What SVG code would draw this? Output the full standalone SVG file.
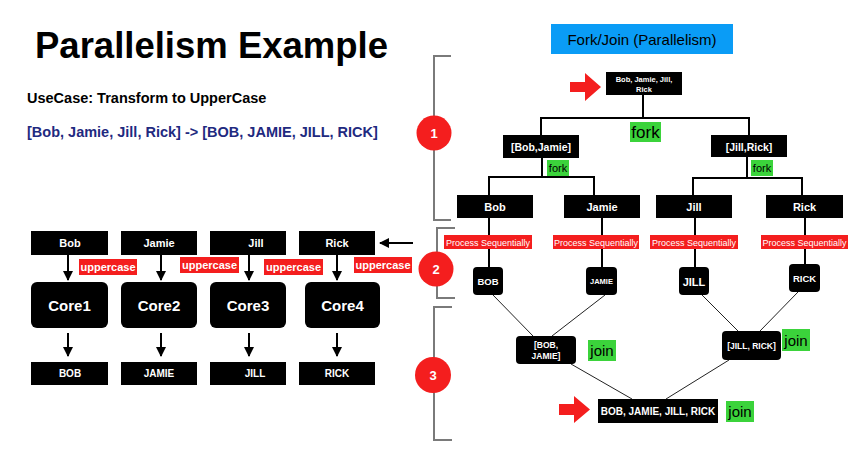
<svg xmlns="http://www.w3.org/2000/svg" width="858" height="452" viewBox="0 0 858 452">
<defs>
<style>
text{font-family:"Liberation Sans",Arial,sans-serif}
.box{fill:#000}
.wt{fill:#fff;text-anchor:middle;font-weight:bold}
.wn{fill:#fff;text-anchor:middle}
.red{fill:#f41e1e}
.grn{fill:#3bd33b}
.ln{stroke:#000;stroke-width:2;fill:none}
.thin{stroke:#222;stroke-width:1;fill:none}
.br{stroke:#7a7a7a;stroke-width:2;fill:none}
.num{fill:#fff;font-weight:bold;font-size:13px;text-anchor:middle}
</style>
<marker id="ah" viewBox="0 0 10 10" refX="9" refY="5" markerWidth="5" markerHeight="5" orient="auto" markerUnits="strokeWidth">
<path d="M0,0 L10,5 L0,10 z" fill="#000"/>
</marker>
</defs>
<rect width="858" height="452" fill="#fff"/>

<g id="title">
<text x="35" y="58" font-size="36.5" font-weight="bold">Parallelism Example</text>
<text x="27" y="103" font-size="14.5" font-weight="bold">UseCase: Transform to UpperCase</text>
<text x="27" y="137" font-size="14.5" font-weight="bold" fill="#1f2a80">[Bob, Jamie, Jill, Rick] -&gt; [BOB, JAMIE, JILL, RICK]</text>
</g>

<g id="header">
<rect x="551" y="24" width="182" height="30" fill="#0a9cf6"/>
<text x="642" y="45" font-size="15" text-anchor="middle">Fork/Join (Parallelism)</text>
</g>

<g id="brackets">
<path class="br" d="M451,56 H434 V220 H451"/>
<path class="br" d="M455,228 H437 V298 H455"/>
<path class="br" d="M452,307 H434 V440 H452"/>
<circle cx="434" cy="133" r="17.5" class="red"/><text class="num" x="434" y="138">1</text>
<circle cx="436" cy="269" r="17.5" class="red"/><text class="num" x="436" y="274">2</text>
<circle cx="433" cy="375" r="18" class="red"/><text class="num" x="433" y="380">3</text>
</g>

<g id="connectors">
<line class="ln" x1="413" y1="243" x2="380" y2="243" marker-end="url(#ah)"/>
<line class="ln" x1="68" y1="255" x2="68" y2="280" marker-end="url(#ah)"/>
<line class="ln" x1="161" y1="255" x2="161" y2="280" marker-end="url(#ah)"/>
<line class="ln" x1="249" y1="255" x2="249" y2="280" marker-end="url(#ah)"/>
<line class="ln" x1="337" y1="255" x2="337" y2="280" marker-end="url(#ah)"/>
<line class="ln" x1="68" y1="333" x2="68" y2="356" marker-end="url(#ah)"/>
<line class="ln" x1="161" y1="333" x2="161" y2="356" marker-end="url(#ah)"/>
<line class="ln" x1="249" y1="333" x2="249" y2="356" marker-end="url(#ah)"/>
<line class="ln" x1="337" y1="333" x2="337" y2="356" marker-end="url(#ah)"/>
<path class="ln" d="M643,95 V118 M541,135 V118 H749 V135"/>
<path class="ln" d="M542,158 V177 M489,195 V177 H594 V195"/>
<path class="ln" d="M747,157 V178 M693,195 V178 H802 V195"/>
<path class="ln" d="M489,218 V267 M602,218 V267 M695,218 V267 M805,218 V264"/>
<path class="thin" d="M493,295 L533,336 M605,295 L552,336 M702,295 L738,331 M798,292 L760,331"/>
<path class="thin" d="M571,364 L632,399 M729,360 L666,399"/>
</g>

<g id="left-inputs">
<rect class="box" x="31" y="231" width="77" height="24"/><text class="wt" x="70" y="247" font-size="11">Bob</text>
<rect class="box" x="121" y="231" width="76" height="24"/><text class="wt" x="159" y="247" font-size="11">Jamie</text>
<rect class="box" x="210" y="231" width="76" height="24"/><text class="wt" x="256" y="247" font-size="11">Jill</text>
<rect class="box" x="299" y="231" width="76" height="24"/><text class="wt" x="337" y="247" font-size="11">Rick</text>
</g>

<g id="uppercase-labels">
<rect class="red" x="79" y="259" width="58" height="16"/><text class="wt" x="108" y="271" font-size="11">uppercase</text>
<rect class="red" x="180" y="257" width="59" height="16"/><text class="wt" x="209.5" y="269" font-size="11">uppercase</text>
<rect class="red" x="264" y="259" width="59" height="16"/><text class="wt" x="293.5" y="271" font-size="11">uppercase</text>
<rect class="red" x="354" y="257" width="58" height="16"/><text class="wt" x="383" y="269" font-size="11">uppercase</text>
</g>

<g id="cores">
<rect class="box" x="31" y="282" width="77" height="46" rx="6"/><text class="wt" x="69.5" y="311" font-size="15">Core1</text>
<rect class="box" x="121" y="282" width="76" height="46" rx="6"/><text class="wt" x="159" y="311" font-size="15">Core2</text>
<rect class="box" x="210" y="282" width="76" height="46" rx="6"/><text class="wt" x="248" y="311" font-size="15">Core3</text>
<rect class="box" x="305" y="282" width="75" height="46" rx="6"/><text class="wt" x="342.5" y="311" font-size="15">Core4</text>
</g>

<g id="left-outputs">
<rect class="box" x="31" y="362" width="77" height="23"/><text class="wt" x="70" y="377" font-size="10">BOB</text>
<rect class="box" x="121" y="362" width="76" height="23"/><text class="wt" x="159" y="377" font-size="10">JAMIE</text>
<rect class="box" x="210" y="362" width="76" height="23"/><text class="wt" x="255" y="377" font-size="10">JILL</text>
<rect class="box" x="299" y="362" width="76" height="23"/><text class="wt" x="337" y="377" font-size="10">RICK</text>
</g>

<g id="top-node">
<path class="red" d="M570,82 H585 V73 L601,87 L585,101 V92 H570 z"/>
<rect class="box" x="606" y="72" width="76" height="23"/>
<text class="wt" x="644" y="82" font-size="7.5">Bob, Jamie, Jill,</text>
<text class="wt" x="644" y="92" font-size="7.5">Rick</text>
</g>

<g id="fork-labels">
<rect class="grn" x="630" y="122" width="31" height="20"/><text x="645.5" y="138" font-size="17" text-anchor="middle">fork</text>
<rect class="grn" x="547" y="160" width="22" height="16"/><text x="558" y="172" font-size="11" text-anchor="middle">fork</text>
<rect class="grn" x="751" y="160" width="22" height="16"/><text x="762" y="172" font-size="11" text-anchor="middle">fork</text>
</g>

<g id="halves">
<rect class="box" x="503" y="135" width="76" height="23"/><text class="wt" x="541" y="151" font-size="10.5">[Bob,Jamie]</text>
<rect class="box" x="711" y="135" width="76" height="22"/><text class="wt" x="749" y="151" font-size="10.5">[Jill,Rick]</text>
</g>

<g id="singles">
<rect class="box" x="457" y="195" width="76" height="23"/><text class="wt" x="495" y="211" font-size="11">Bob</text>
<rect class="box" x="564" y="195" width="76" height="23"/><text class="wt" x="602" y="211" font-size="11">Jamie</text>
<rect class="box" x="656" y="195" width="76" height="23"/><text class="wt" x="694" y="211" font-size="11">Jill</text>
<rect class="box" x="766" y="195" width="77" height="23"/><text class="wt" x="804.5" y="211" font-size="11">Rick</text>
</g>

<g id="process-labels">
<rect class="red" x="444" y="235" width="88" height="14"/><text class="wn" x="488" y="245.5" font-size="9">Process Sequentially</text>
<rect class="red" x="553" y="235" width="86" height="14"/><text class="wn" x="596" y="245.5" font-size="9">Process Sequentially</text>
<rect class="red" x="650" y="235" width="88" height="14"/><text class="wn" x="694" y="245.5" font-size="9">Process Sequentially</text>
<rect class="red" x="761" y="235" width="87" height="14"/><text class="wn" x="804.5" y="245.5" font-size="9">Process Sequentially</text>
</g>

<g id="upper-nodes">
<rect class="box" x="473" y="267" width="30" height="28" rx="4"/><text class="wt" x="488" y="285" font-size="9.5">BOB</text>
<rect class="box" x="586" y="267" width="31" height="28" rx="4"/><text class="wt" x="601.5" y="284" font-size="7.5">JAMIE</text>
<rect class="box" x="679" y="267" width="30" height="28" rx="4"/><text class="wt" x="694" y="286" font-size="11">JILL</text>
<rect class="box" x="789" y="264" width="31" height="28" rx="4"/><text class="wt" x="804.5" y="282" font-size="9.5">RICK</text>
</g>

<g id="joins">
<rect class="box" x="516" y="336" width="60" height="28" rx="4"/>
<text class="wt" x="546" y="348" font-size="8.5">[BOB,</text>
<text class="wt" x="546" y="359" font-size="8.5">JAMIE]</text>
<rect class="grn" x="588" y="340" width="28" height="21"/><text x="602" y="356" font-size="15" text-anchor="middle">join</text>
<rect class="box" x="722" y="331" width="59" height="29" rx="4"/>
<text class="wt" x="751.5" y="349" font-size="8.5">[JILL, RICK]</text>
<rect class="grn" x="782" y="329" width="28" height="22"/><text x="796" y="346" font-size="15" text-anchor="middle">join</text>
</g>

<g id="result">
<path class="red" d="M559,404 H574 V396 L590,409.5 L574,423 V415 H559 z"/>
<rect class="box" x="598" y="399" width="120" height="24"/>
<text class="wt" x="658" y="415" font-size="10">BOB, JAMIE, JILL, RICK</text>
<rect class="grn" x="726" y="401" width="28" height="21"/><text x="740" y="417" font-size="15" text-anchor="middle">join</text>
</g>
</svg>
